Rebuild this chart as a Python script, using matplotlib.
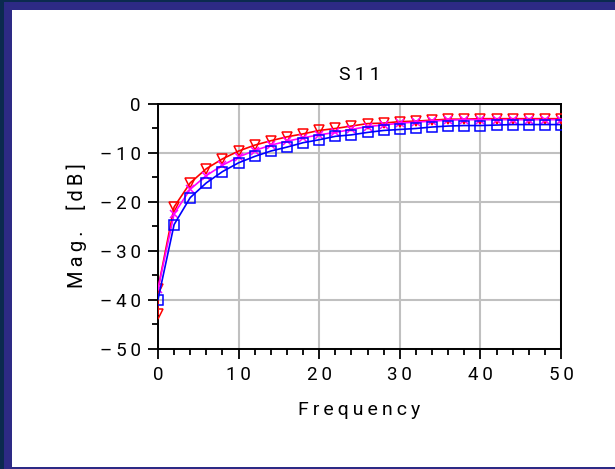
import matplotlib
matplotlib.use("Agg")
import matplotlib.pyplot as plt
from matplotlib.patches import Rectangle
from matplotlib.ticker import MultipleLocator, FuncFormatter

# S11 magnitude vs frequency
freq = [0, 2, 4, 6, 8, 10, 12, 14, 16, 18, 20, 22, 24, 26, 28, 30,
        32, 34, 36, 38, 40, 42, 44, 46, 48, 50]

# red curve has two samples at f=0
freq_red = [0, 0] + freq[1:]
s11_red = [-43.0, -37.8, -21.1, -16.2, -13.3, -11.3, -9.7, -8.5, -7.6, -6.8,
           -6.2, -5.5, -5.1, -4.6, -4.1, -4.0, -3.7, -3.6, -3.4, -3.2,
           -3.2, -3.1, -3.1, -3.1, -3.1, -3.1, -3.1]
s11_mag = [-37.8, -22.5, -17.5, -14.7, -12.6, -10.9, -9.6, -8.5, -7.7, -7.0,
           -6.4, -5.9, -5.3, -4.7, -4.4, -4.0, -3.8, -3.6, -3.4, -3.3,
           -3.3, -3.3, -3.3, -3.3, -3.3, -3.3]
s11_blue = [-40.0, -24.7, -19.2, -16.2, -13.9, -12.1, -10.8, -9.7, -8.9, -8.0,
            -7.4, -6.7, -6.4, -5.9, -5.5, -5.3, -5.1, -4.8, -4.6, -4.5,
            -4.5, -4.4, -4.3, -4.3, -4.3, -4.3]

FONT = ["Roboto", "DejaVu Sans"]
WEIGHT = "normal"
SP = "\u2009"


def spaced(s):
    return SP.join(s)


fig = plt.figure(figsize=(6.15, 4.69), dpi=100)

# window frame
fig.patches.append(Rectangle((0, 0), 12 / 615, 1, transform=fig.transFigure,
                             facecolor="#2d2a85", edgecolor="none", zorder=-5))
fig.patches.append(Rectangle((0, 1 - 10 / 469), 1, 10 / 469, transform=fig.transFigure,
                             facecolor="#2d2a85", edgecolor="none", zorder=-5))
fig.patches.append(Rectangle((0, 0), 1, 2 / 469, transform=fig.transFigure,
                             facecolor="#2d2a85", edgecolor="none", zorder=-5))
fig.patches.append(Rectangle((0, 0), 4 / 615, 1, transform=fig.transFigure,
                             facecolor="#0b2a4f", edgecolor="none", zorder=-4))
fig.patches.append(Rectangle((0, 1 - 2 / 469), 1, 2 / 469, transform=fig.transFigure,
                             facecolor="#0b2a4f", edgecolor="none", zorder=-4))

ax = fig.add_axes([158 / 615, 1 - 348.5 / 469, 403 / 615, 245 / 469])

ax.plot(freq_red, s11_red, color="#ff0000", lw=1.2, marker="v", ms=7.5,
        mfc="none", mec="#ff0000", mew=1.1, zorder=3)
ax.plot(freq, s11_mag, color="#ff00ff", lw=1.2, marker="x", ms=6,
        mec="#ff00ff", mew=1.1, zorder=4)
ax.plot(freq, s11_blue, color="#0000ff", lw=1.2, marker="s", ms=7,
        mfc="none", mec="#0000ff", mew=1.1, zorder=5)

ax.set_xlim(0, 50)
ax.set_ylim(-50, 0)
ax.xaxis.set_major_locator(MultipleLocator(10))
ax.xaxis.set_minor_locator(MultipleLocator(2))
ax.yaxis.set_major_locator(MultipleLocator(10))
ax.yaxis.set_minor_locator(MultipleLocator(5))
fmt = FuncFormatter(lambda v, p: spaced(("\u2013" if v < 0 else "") + str(int(abs(v)))))
ax.xaxis.set_major_formatter(fmt)
ax.yaxis.set_major_formatter(fmt)

ax.grid(True, which="major", color="#c0c0c0", lw=1.5)
ax.set_axisbelow(True)
for sp in ax.spines.values():
    sp.set_linewidth(1.4)
ax.tick_params(which="major", direction="out", length=7.5, width=1.3,
               labelsize=13.5, pad=5)
ax.tick_params(which="minor", direction="out", length=4.5, width=1.3)
for lab in ax.get_xticklabels() + ax.get_yticklabels():
    lab.set_family(FONT)
    lab.set_fontweight(WEIGHT)

ax.set_title(spaced("S11"), fontsize=14, family=FONT, fontweight=WEIGHT, pad=17)
ax.set_xlabel(spaced("Frequency"), fontsize=14, family=FONT, fontweight=WEIGHT,
              labelpad=12)
ax.set_ylabel(spaced("Mag.") + "\u2003" + spaced("[dB]"), fontsize=14.5, family=FONT,
              fontweight=WEIGHT, labelpad=9)

fig.savefig("out.png", dpi=100)
